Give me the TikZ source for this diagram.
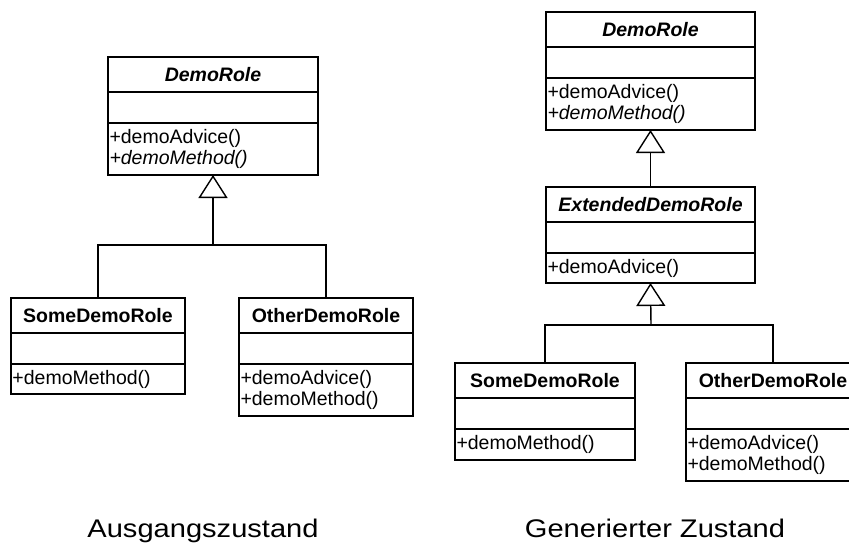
\documentclass[tikz,border=0pt]{standalone}
\usepackage{fontspec}
\setmainfont{Liberation Sans}
\newfontfamily\captionfont[FakeStretch=1.14]{Liberation Sans}
\usetikzlibrary{arrows.meta,positioning}

\tikzset{
  classhead/.style={draw, outer sep=0pt, inner sep=0pt, minimum height=35,
    align=center, font=\fontsize{19.5}{21}\selectfont\bfseries},
  classattr/.style={draw, outer sep=0pt, inner sep=0pt, minimum height=31},
  classops/.style={draw, outer sep=0pt, inner xsep=1.5pt, inner ysep=0pt,
    align=left, font=\fontsize{19.5}{21}\selectfont},
  connector/.style={line width=1.4pt},
  generalization/.style={connector, -{Triangle[open, length=23pt, width=29pt]}},
  caption/.style={anchor=base, font=\captionfont\fontsize{25.5}{28}\selectfont}
}

% class box: name, north west corner, width, title, operations, height of operations
\newcommand{\umlclass}[6]{%
  \pgfmathsetmacro\opswidth{#3-3}
  \node[classhead, minimum width=#3, anchor=north west] (#1) at #2 {#4};
  \node[classattr, minimum width=#3, below=0pt of #1] (#1-a) {};
  \node[classops, minimum width=#3, text width=\opswidth pt, minimum height=#6,
    below=0pt of #1-a] (#1-o) {#5};
}

\begin{document}
\begin{tikzpicture}[x=1pt, y=-1pt, line width=1.4pt]
    \useasboundingbox[fill=white] (0,0) rectangle (849,546);
    \clip (0,0) rectangle (849,546);

    % Ausgangszustand
    \umlclass{ldemo}{(108,57)}{210}{\itshape DemoRole}{+demoAdvice()\\\textit{+demoMethod()}}{52}
    \umlclass{lsome}{(11,298)}{174}{SomeDemoRole}{+demoMethod()}{30}
    \umlclass{lother}{(239,298)}{174}{OtherDemoRole}{+demoAdvice()\\+demoMethod()}{52}

    \coordinate (ljoin) at (213,245);
    \draw[generalization] (ljoin) -- (ldemo-o.south);
    \draw[connector] (lsome.north) |- (ljoin) -| (lother.north);

    % Generierter Zustand
    \umlclass{rdemo}{(546,12)}{209}{\itshape DemoRole}{+demoAdvice()\\\textit{+demoMethod()}}{52}
    \umlclass{rext}{(546,187)}{209}{\itshape ExtendedDemoRole}{+demoAdvice()}{30}
    \umlclass{rsome}{(455,363)}{180}{SomeDemoRole}{+demoMethod()}{31}
    \umlclass{rother}{(686,363)}{174}{OtherDemoRole}{+demoAdvice()\\+demoMethod()}{52}

    \draw[generalization] (rext.north) -- (rdemo-o.south);
    \coordinate (rjoin) at (651,325);
    \draw[generalization] (rjoin) -- (rext-o.south);
    \draw[connector] (rsome.north) |- (rjoin) -| (rother.north);

    % captions
    \node[caption] (leftcaption) at (203,537) {Ausgangszustand};
    \node[caption] (rightcaption) at (655,537) {Generierter Zustand};
\end{tikzpicture}
\end{document}
